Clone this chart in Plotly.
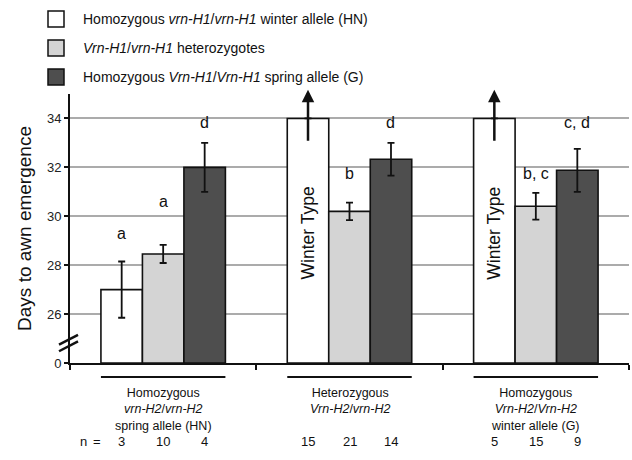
import plotly.graph_objects as go

# ---------------- data ----------------
groups = [0, 1, 2]
series_names = [
    "Homozygous <i>vrn-H1</i>/<i>vrn-H1</i> winter allele (HN)",
    "<i>Vrn-H1</i>/<i>vrn-H1</i> heterozygotes",
    "Homozygous <i>Vrn-H1</i>/<i>Vrn-H1</i> spring allele (G)",
]
winter_vals = [27.0, 34.0, 34.0]
winter_err = [1.15, None, None]
het_vals = [28.46, 30.2, 30.41]
het_err = [0.37, 0.36, 0.55]
spring_vals = [32.0, 32.33, 31.88]
spring_err = [1.0, 0.67, 0.88]
letters = [["a", "a", "d"], [None, "b", "d"], [None, "b, c", "c, d"]]
letter_y = [[29.3, 30.6, 33.85], [None, 31.75, 33.85], [None, 31.75, 33.85]]
n_counts = [[3, 10, 4], [15, 21, 14], [5, 15, 9]]
group_labels = [
    "Homozygous<br><i>vrn-H2</i>/<i>vrn-H2</i><br>spring allele (HN)",
    "Heterozygous<br><i>Vrn-H2</i>/<i>vrn-H2</i>",
    "Homozygous<br><i>Vrn-H2</i>/<i>Vrn-H2</i><br>winter allele (G)",
]
y_tickvals = [24, 26, 28, 30, 32, 34]
y_ticktext = ["0", "26", "28", "30", "32", "34"]

colors = ["#ffffff", "#d4d4d4", "#4e4e4e"]
FONT = "Arial, Liberation Sans, Helvetica, sans-serif"
W, H = 632, 460
ML, MR, MT, MB = 70, 3, 94, 97
PW, PH = W - ML - MR, H - MT - MB
bargap = 0.332
bar_w = (1 - bargap) / 3


def px_x(px):
    return (px - ML) / PW


def px_y(py):
    return (H - MB - py) / PH


fig = go.Figure()
for i, (vals, errs) in enumerate([(winter_vals, winter_err), (het_vals, het_err), (spring_vals, spring_err)]):
    fig.add_trace(go.Bar(
        x=groups, y=[v - 24 for v in vals], base=24,
        name=series_names[i], showlegend=False,
        marker=dict(color=colors[i], line=dict(color="#111111", width=1.6)),
        error_y=dict(type="data", array=errs, visible=True, color="#111111",
                     thickness=1.8, width=3.5),
    ))

annotations = []
shapes = []
# legend (drawn manually so it does not push the margins)
for i, name in enumerate(series_names):
    cy = 19 + 29 * i
    shapes.append(dict(type="rect", xref="paper", yref="paper",
                       x0=px_x(48), x1=px_x(64), y0=px_y(cy + 8), y1=px_y(cy - 8),
                       fillcolor=colors[i], line=dict(color="#111", width=1.5)))
    annotations.append(dict(x=px_x(81), y=px_y(cy), xref="paper", yref="paper", text=name,
                            xanchor="left", yanchor="middle", showarrow=False,
                            font=dict(size=14, color="#111", family=FONT)))
# letters
for g in groups:
    for s in range(3):
        if letters[g][s]:
            annotations.append(dict(x=g + (s - 1) * bar_w, y=letter_y[g][s], xref="x", yref="y",
                                    text=letters[g][s], showarrow=False,
                                    xanchor="center", yanchor="middle",
                                    font=dict(size=16, color="#111", family=FONT)))
# winter type arrows and text
for g in groups:
    if winter_err[g] is None:
        annotations.append(dict(x=g - bar_w, y=35.17, ax=g - bar_w, ay=33.03, xref="x", yref="y",
                                axref="x", ayref="y", text="", showarrow=True, arrowhead=2,
                                arrowsize=1, arrowwidth=2.5, arrowcolor="#111"))
        annotations.append(dict(x=g - bar_w, y=29.3, xref="x", yref="y", text="Winter Type",
                                textangle=-90, showarrow=False,
                                xanchor="center", yanchor="middle",
                                font=dict(size=17.5, color="#111", family=FONT)))
# group labels below axis
for g in groups:
    shapes.append(dict(type="line", xref="x", yref="paper", x0=g - 1.5 * bar_w, x1=g + 1.5 * bar_w,
                       y0=px_y(377), y1=px_y(377), line=dict(color="#111", width=2)))
    annotations.append(dict(x=g, y=px_y(385), xref="x", yref="paper", text=group_labels[g],
                            xanchor="center", yanchor="top", borderpad=0, showarrow=False,
                            font=dict(size=12.5, color="#111", family=FONT)))
    for s in range(3):
        annotations.append(dict(x=g + (s - 1) * bar_w, y=px_y(441.5), xref="x", yref="paper",
                                text=str(n_counts[g][s]), borderpad=0, showarrow=False,
                                xanchor="center", yanchor="middle",
                                font=dict(size=13, color="#111", family=FONT)))
for txt, xp in [("n", 83), ("=", 97)]:
    annotations.append(dict(x=px_x(xp), y=px_y(441.5), xref="paper", yref="paper", text=txt,
                            borderpad=0, showarrow=False, xanchor="center", yanchor="middle",
                            font=dict(size=13, color="#111", family=FONT)))
# axis break marks
for dy in [0.0, -0.27]:
    shapes.append(dict(type="line", xref="paper", yref="y", x0=px_x(59), x1=px_x(78),
                       y0=24.75 + dy, y1=25.15 + dy, line=dict(color="#111", width=2.5)))

fig.update_layout(
    width=W, height=H,
    margin=dict(l=ML, r=MR, t=MT, b=MB, autoexpand=False),
    paper_bgcolor="white", plot_bgcolor="white",
    barmode="group", bargap=bargap, bargroupgap=0,
    font=dict(family=FONT, color="#111"),
    showlegend=False,
    annotations=annotations, shapes=shapes,
)
fig.update_xaxes(range=[-0.5, 2.5], showline=True, linewidth=2, linecolor="#111",
                 tickvals=[-0.5, 0.5, 1.5, 2.5], ticks="outside", ticklen=5, tickwidth=2,
                 tickcolor="#111", showticklabels=False, showgrid=False, zeroline=False,
                 automargin=False)
fig.update_yaxes(range=[24, 35], tickvals=y_tickvals, ticktext=y_ticktext, showline=True,
                 linewidth=2, linecolor="#111", ticks="outside", ticklen=4, tickwidth=2,
                 tickcolor="#111", tickfont=dict(size=13, color="#222", family=FONT),
                 showgrid=True, gridcolor="#ababab", gridwidth=1.5, zeroline=False,
                 automargin=False,
                 title=dict(text="Days to awn emergence", standoff=10,
                            font=dict(size=19, color="#111", family=FONT)))

fig.write_html("out.html", config={"displayModeBar": False},
               post_script="document.body.style.margin='0';")
